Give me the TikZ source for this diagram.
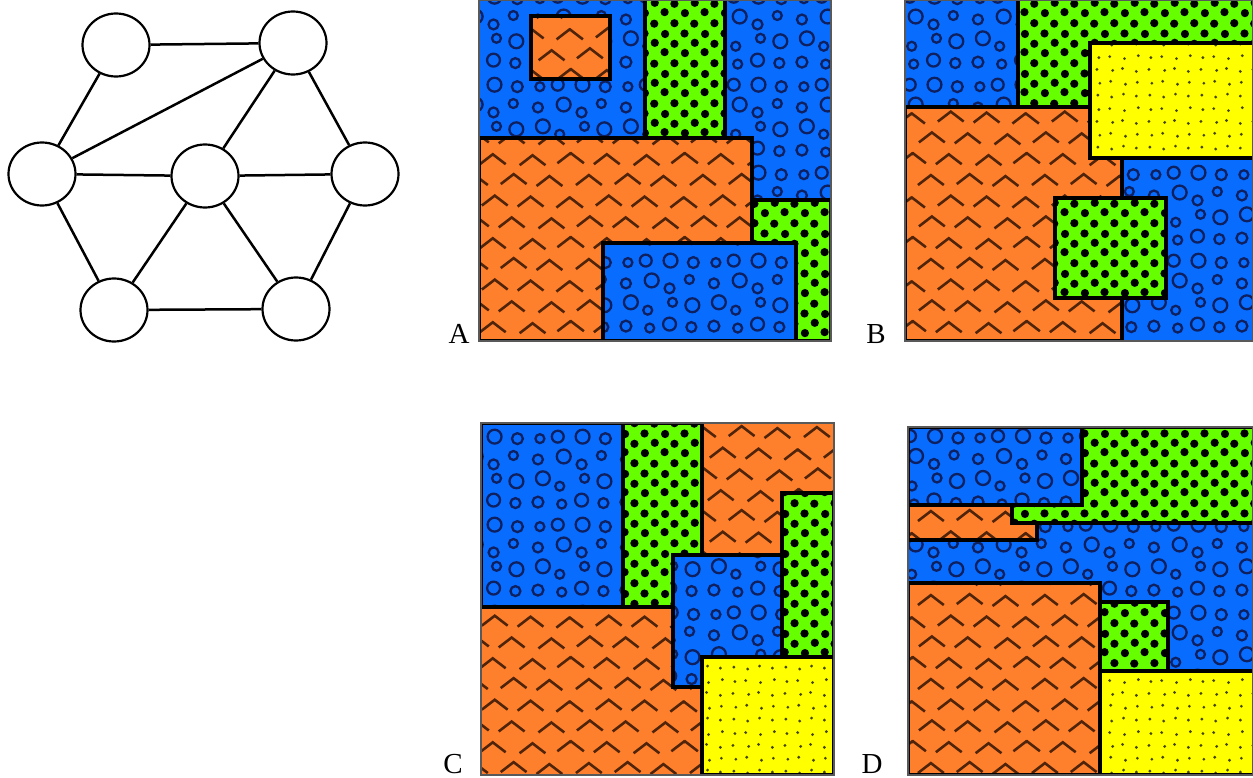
\documentclass[tikz,border=0pt]{standalone}
\usepackage{fontspec}
\setmainfont{Liberation Serif}
\usetikzlibrary{shapes.geometric, patterns.meta}

\definecolor{mapblue}{RGB}{8,108,255}
\definecolor{maporange}{RGB}{255,128,44}
\definecolor{mapgreen}{RGB}{102,255,0}
\definecolor{mapyellow}{RGB}{255,255,0}
\definecolor{ringink}{RGB}{14,32,96}
\definecolor{chevink}{RGB}{80,36,10}
\definecolor{grainink}{RGB}{70,70,0}

\tikzdeclarepattern{
    name=bubbles, type=uncolored,
    bounding box={(0pt,0pt) and (88pt,88pt)}, tile size={(88pt,88pt)},
    code={
        \foreach \px/\py/\pr in {10/12/5.5, 34/10/4.5, 54/14/6.5, 76/11/5,
            15/36/7, 32/28/4.5, 57/36/4.5, 77/33/7,
            10/55/5, 36/58/7, 54/50/5, 74/59/4.5,
            12/76/4.5, 30/78/6, 55/78/7, 78/76/5.5}
            {\draw[line width=2.3pt] (\px pt,\py pt) circle [radius=\pr pt];}
    }
}
\tikzdeclarepattern{
    name=chevrons, type=uncolored,
    bounding box={(0pt,0pt) and (114pt,84pt)}, tile size={(114pt,84pt)},
    code={
        \foreach \cx/\cy in {19/10, 58/11, 94/9, 1/32, 115/32, 37/31, 77/30,
            20/53, 56/52, 96/51, 0/72, 114/72, 39/74, 75/73}
            {\draw[line width=2.6pt, shift={(\cx pt,\cy pt)}] (-13pt,-5pt) -- (0pt,5pt) -- (13pt,-5pt);}
    }
}
\tikzdeclarepattern{
    name=pebbles, type=uncolored,
    bounding box={(0pt,0pt) and (40pt,40pt)}, tile size={(40pt,40pt)},
    code={
        \foreach \px/\py in {5/5, 25/6, 15/15.5, 35/14.5, 4.6/25, 25.5/24.5, 14.5/35, 35/35.5}
            {\fill (\px pt,\py pt) circle [radius=4.2pt];}
    }
}
\tikzdeclarepattern{
    name=grains, type=uncolored,
    bounding box={(0pt,0pt) and (52pt,52pt)}, tile size={(52pt,52pt)},
    code={
        \foreach \px/\py in {6/7, 20/5, 32/8, 45/6, 8/19, 19/21, 34/18, 46/20,
            5/33, 21/32, 31/34, 45/31, 7/45, 18/46, 33/44, 47/47}
            {\fill (\px pt,\py pt) circle [radius=1.6pt];}
    }
}

\tikzset{
    vertex/.style={ellipse, draw=black, line width=2.2pt, fill=white, minimum width=67pt, minimum height=63pt, inner sep=0pt},
    link/.style={draw=black, line width=2.5pt},
    water/.style={preaction={fill=mapblue}, pattern=bubbles, pattern color=ringink},
    clay/.style={preaction={fill=maporange}, pattern=chevrons, pattern color=chevink},
    grass/.style={preaction={fill=mapgreen}, pattern=pebbles, pattern color=black},
    sand/.style={preaction={fill=mapyellow}, pattern=grains, pattern color=grainink},
    border/.style={draw=black, line width=3.6pt},
    frame/.style={draw=black!65, line width=1.4pt},
    maplabel/.style={font=\fontsize{29}{34}\selectfont, anchor=base, inner sep=0pt},
}

\begin{document}
\begin{tikzpicture}[x=1pt, y=-1pt]
    \useasboundingbox (0,0) rectangle (1253,778);

    \node[vertex] (v1) at (116,45) {};
    \node[vertex] (v2) at (293,43) {};
    \node[vertex] (v3) at (42,174) {};
    \node[vertex] (v4) at (205,176) {};
    \node[vertex] (v5) at (365,174) {};
    \node[vertex] (v6) at (114,310) {};
    \node[vertex] (v7) at (296,309) {};
    \foreach \a/\b in {v1/v2, v1/v3, v2/v3, v2/v4, v2/v5, v3/v4, v4/v5, v3/v6, v4/v6, v4/v7, v5/v7, v6/v7}
        \draw[link] (\a) -- (\b);

    \begin{scope}
        \clip (479,0) rectangle (831,341);
        \path[water] (479,0) rectangle (831,341);
        \path[clay, border] (479,138) rectangle (752,341);
        \path[grass, border] (752,200) rectangle (831,341);
        \path[water, border] (603,243) rectangle (796,341);
        \path[grass, border] (645,-5) rectangle (725,138);
        \path[clay, border] (531,16) rectangle (610,79);
    \end{scope}
    \draw[frame] (479,0) rectangle (831,341);

    \begin{scope}
        \clip (905,0) rectangle (1253,341);
        \path[water] (905,0) rectangle (1253,341);
        \path[clay, border] (905,107) -- (1090,107) -- (1090,158) -- (1122,158) -- (1122,341) -- (905,341) -- cycle;
        \path[grass, border] (1018,-5) -- (1258,-5) -- (1258,43) -- (1090,43) -- (1090,107) -- (1018,107) -- cycle;
        \path[sand, border] (1090,43) rectangle (1258,158);
        \path[grass, border] (1055,198) rectangle (1166,298);
    \end{scope}
    \draw[frame] (905,0) rectangle (1253,341);

    \begin{scope}
        \clip (481,423) rectangle (834,775);
        \path[clay] (481,423) rectangle (834,775);
        \path[water, border] (481,423) rectangle (623,607);
        \path[grass, border] (623,423) rectangle (702,607);
        \path[grass, border] (782,493) rectangle (834,657);
        \path[water, border] (673,555) rectangle (782,687);
        \path[sand, border] (702,657) rectangle (834,775);
    \end{scope}
    \draw[frame] (481,423) rectangle (834,775);

    \begin{scope}
        \clip (908,427) rectangle (1253,775);
        \path[water] (908,427) rectangle (1253,775);
        \path[clay, border] (908,505) rectangle (1037,540);
        \path[grass, border] (1082,427) -- (1258,427) -- (1258,523) -- (1012,523) -- (1012,505) -- (1082,505) -- cycle;
        \path[water, border] (908,427) rectangle (1082,505);
        \path[clay, border] (908,583) rectangle (1100,775);
        \path[grass, border] (1100,602) rectangle (1168,671);
        \path[sand, border] (1100,671) rectangle (1258,775);
    \end{scope}
    \draw[frame] (908,427) rectangle (1253,775);

    \node[maplabel] (labA) at (459,343) {A};
    \node[maplabel] (labB) at (876,343) {B};
    \node[maplabel] (labC) at (453,773) {C};
    \node[maplabel] (labD) at (872,773) {D};
\end{tikzpicture}
\end{document}
